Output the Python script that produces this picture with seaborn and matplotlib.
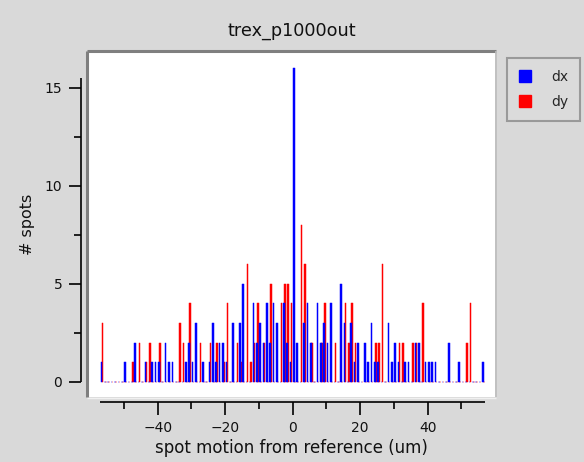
import numpy as np
import pandas as pd
import matplotlib
matplotlib.use("Agg")
import matplotlib.pyplot as plt
from matplotlib.patches import Patch
from matplotlib.lines import Line2D
from matplotlib.ticker import FixedLocator
import seaborn as sns

# ---- data: 1-um bins, left edges -57 .. 56 ----
bin_left = list(range(-57, 57))
dx_counts = [1, 0, 0, 0, 0, 0, 0, 1, 0, 0,   # -57..-48
             2, 0, 0, 1, 0, 1, 1, 1, 0, 2,   # -47..-38
             1, 1, 0, 0, 0, 1, 2, 1, 3, 0,   # -37..-28
             1, 0, 1, 3, 1, 2, 2, 1, 0, 3,   # -27..-18
             0, 3, 5, 0, 0, 4, 2, 3, 2, 4,   # -17..-8
             2, 4, 3, 0, 4, 2, 1, 16, 2, 0,  # -7..2
             3, 4, 2, 0, 4, 2, 3, 2, 4, 0,   # 3..12
             0, 5, 3, 0, 3, 1, 2, 0, 2, 1,   # 13..22
             3, 1, 1, 0, 0, 3, 1, 2, 1, 0,   # 23..32
             1, 1, 0, 2, 2, 0, 1, 1, 1, 1,   # 33..42
             0, 0, 0, 2, 0, 0, 1, 0, 0, 0,   # 43..52
             0, 0, 0, 1]                     # 53..56
dy_counts = [3, 0, 0, 0, 0, 0, 0, 0, 0, 1,   # -57..-48
             0, 2, 0, 1, 2, 0, 0, 2, 0, 0,   # -47..-38
             0, 0, 0, 3, 2, 0, 4, 0, 0, 2,   # -37..-28
             0, 0, 2, 0, 2, 0, 1, 4, 0, 0,   # -27..-18
             2, 1, 0, 6, 1, 2, 4, 0, 2, 0,   # -17..-8
             5, 0, 0, 4, 5, 5, 4, 0, 0, 8,   # -7..2
             6, 0, 2, 0, 0, 2, 4, 0, 0, 2,   # 3..12
             0, 0, 4, 2, 4, 2, 0, 0, 0, 0,   # 13..22
             0, 2, 2, 6, 0, 0, 0, 0, 2, 2,   # 23..32
             0, 0, 2, 2, 0, 4, 0, 0, 0, 0,   # 33..42
             0, 0, 0, 0, 0, 0, 0, 0, 2, 4,   # 43..52
             0, 0, 0, 0]                     # 53..56
series_names = ["dx", "dy"]
series_colors = ["#0000ff", "#ff0000"]
title = "trex_p1000out"
x_label = "spot motion from reference (um)"
y_label = "# spots"
x_major = [-40, -20, 0, 20, 40]
x_minor = [-50, -30, -10, 10, 30, 50]
y_major = [0, 5, 10, 15]
y_minor = [2.5, 7.5, 12.5]

df = pd.DataFrame({"left": bin_left, "dx": dx_counts, "dy": dy_counts})
df["center"] = df["left"] + 0.5

# ---- figure ----
W, H = 584, 462
BG = "#d9d9d9"
sns.set_theme(style="white")
plt.rcParams["font.family"] = ["DejaVu Sans"]
fig = plt.figure(figsize=(W / 100, H / 100), dpi=100, facecolor=BG)

ax_l, ax_r, ax_t, ax_b = 88, 495, 52, 397
ax = fig.add_axes([ax_l / W, 1 - ax_b / H, (ax_r - ax_l) / W, (ax_b - ax_t) / H])
ax.set_facecolor("white")

# bars: red first, blue on top, slightly offset
sns.barplot(x=df["center"] + 0.15, y=df["dy"], native_scale=True, color=series_colors[1],
            saturation=1, width=0.5, errorbar=None, ax=ax,
            edgecolor=series_colors[1], linewidth=0.35)
sns.barplot(x=df["center"] - 0.15, y=df["dx"], native_scale=True, color=series_colors[0],
            saturation=1, width=0.5, errorbar=None, ax=ax,
            edgecolor=series_colors[0], linewidth=0.35)

ax.set_xlim(-60.65, 59.94)
ax.set_ylim(-0.78, 16.82)

# spines: offset axes like the original
for s in ["top", "right"]:
    ax.spines[s].set_visible(False)
for s in ["left", "bottom"]:
    ax.spines[s].set_visible(True)
    ax.spines[s].set_color("black")
    ax.spines[s].set_linewidth(1.2)
    ax.spines[s].set_capstyle("butt")
ax.spines["left"].set_position(("outward", 5))
ax.spines["bottom"].set_position(("outward", 3.6))
ax.spines["left"].set_bounds(0, 15.5)
ax.spines["bottom"].set_bounds(-57, 57)

ax.set_xticks(x_major)
ax.set_xticklabels([f"{v:d}".replace("-", "\u2212") for v in x_major])
ax.xaxis.set_minor_locator(FixedLocator(x_minor))
ax.set_yticks(y_major)
ax.set_yticklabels([str(v) for v in y_major])
ax.yaxis.set_minor_locator(FixedLocator(y_minor))
ax.tick_params(axis="both", which="major", direction="out", length=9, width=1.2,
               color="black", labelsize=10, labelcolor="#111111", pad=4.5,
               bottom=True, left=True)
ax.tick_params(axis="both", which="minor", direction="out", length=5, width=1.2,
               color="black", bottom=True, left=True)
ax.grid(False)

ax.set_xlabel(x_label, fontsize=12, color="#111111", labelpad=3)
ax.set_ylabel(y_label, fontsize=11.5, color="#111111", labelpad=7)
ax.set_title(title, fontsize=12.7, color="#111111", pad=12)

# sunken border around plot area
def px_line(x0, y0, x1, y1, color, lw):
    fig.add_artist(Line2D([x0 / W, x1 / W], [1 - y0 / H, 1 - y1 / H],
                          transform=fig.transFigure, color=color, lw=lw,
                          solid_capstyle="butt"))

px_line(ax_l - 1.5, ax_t - 1.5, ax_r + 1, ax_t - 1.5, "#7f7f7f", 2.2)
px_line(ax_l - 1.5, ax_t - 1.5, ax_l - 1.5, ax_b, "#7f7f7f", 2.2)
px_line(ax_r + 1, ax_t - 1.5, ax_r + 1, ax_b, "#bdbdbd", 1.2)
px_line(ax_l - 1.5, ax_b + 0.5, ax_r + 1, ax_b + 0.5, "#f0f0f0", 1.0)

# legend
handles = [Patch(facecolor=c, edgecolor=c) for c in series_colors]
leg = fig.legend(handles, series_names, loc="upper left",
                 bbox_to_anchor=(507 / W, 1 - 58 / H), bbox_transform=fig.transFigure,
                 frameon=True, fancybox=False, fontsize=10, handlelength=0.9,
                 handleheight=0.9, handletextpad=1.4, labelspacing=0.8,
                 borderpad=0.85, borderaxespad=0)
leg.get_frame().set_facecolor("#dcdcdc")
leg.get_frame().set_edgecolor("#8a8a8a")
leg.get_frame().set_linewidth(1.5)

fig.savefig("out.png", dpi=100, facecolor=BG)
